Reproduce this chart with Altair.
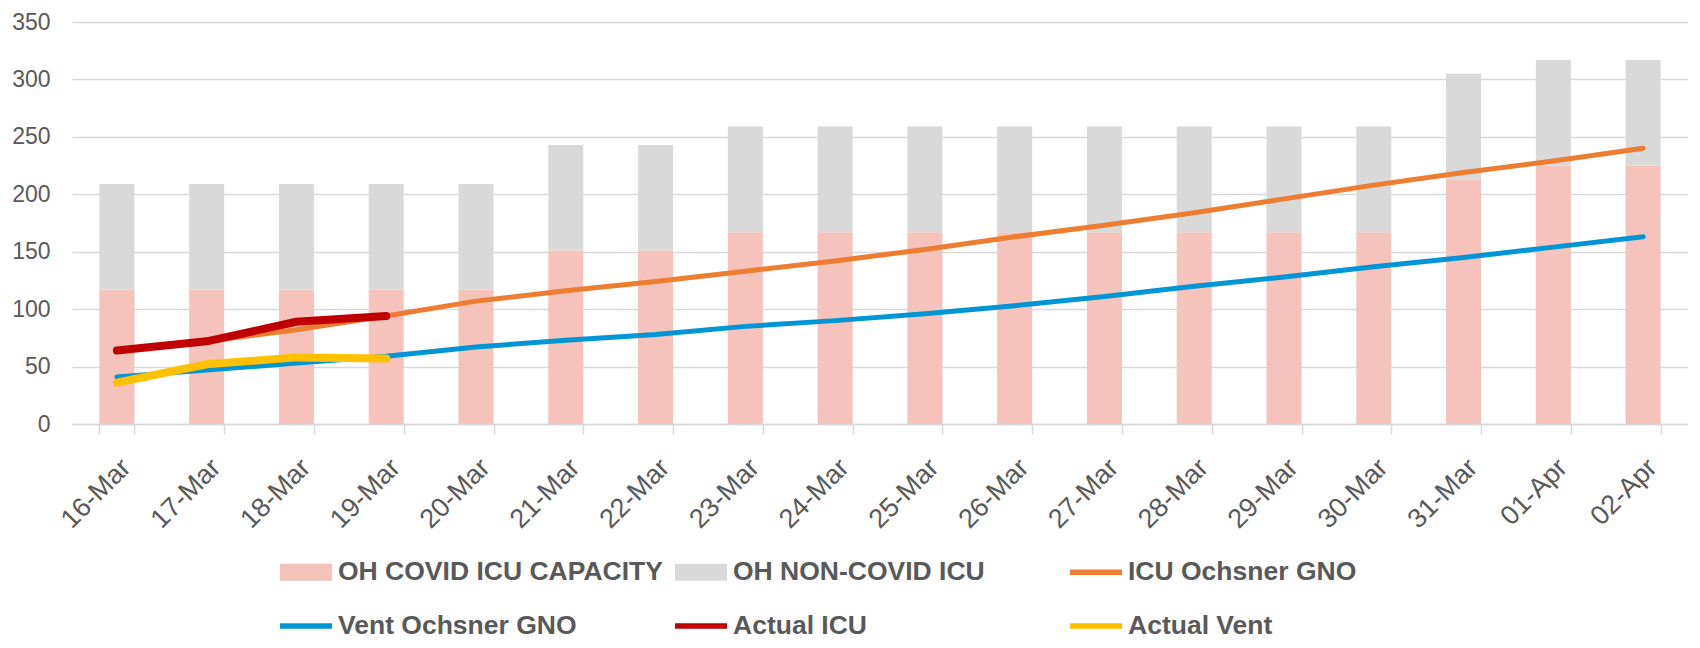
import altair as alt
import pandas as pd

dates = ["16-Mar", "17-Mar", "18-Mar", "19-Mar", "20-Mar", "21-Mar", "22-Mar", "23-Mar", "24-Mar",
         "25-Mar", "26-Mar", "27-Mar", "28-Mar", "29-Mar", "30-Mar", "31-Mar", "01-Apr", "02-Apr"]
covid_capacity = [117, 117, 117, 117, 117, 151, 151, 167, 167, 167, 167, 167, 167, 167, 167, 213, 225, 225]
non_covid = [92, 92, 92, 92, 92, 92, 92, 92, 92, 92, 92, 92, 92, 92, 92, 92, 92, 92]
icu_proj = [64, 72, 82, 94, 107, 116, 124, 133, 142, 152, 163, 173, 184, 196, 208, 219, 229, 240]
vent_proj = [41, 47, 53, 59, 67, 73, 78, 85, 90, 96, 103, 111, 120, 128, 137, 145, 154, 163]
actual_dates = ["16-Mar", "17-Mar", "18-Mar", "19-Mar"]
actual_icu = [64, 72, 89, 94]
actual_vent = [36, 52, 58, 57]
y_ticks = [0, 50, 100, 150, 200, 250, 300, 350]

series_names = ["OH COVID ICU CAPACITY", "OH NON-COVID ICU", "ICU Ochsner GNO",
                "Vent Ochsner GNO", "Actual ICU", "Actual Vent"]
series_colors = ["#F6C2BC", "#D9D9D9", "#ED7D31", "#0096D6", "#C00000", "#FFC000"]
rect_path = "M-1,-0.33H1V0.33H-1Z"
line_path = "M-1,-0.11H1V0.11H-1Z"
series_shapes = [rect_path, rect_path, line_path, line_path, line_path, line_path]

bars = pd.DataFrame({
    "date": dates * 2,
    "series": [series_names[0]] * len(dates) + [series_names[1]] * len(dates),
    "order": [0] * len(dates) + [1] * len(dates),
    "value": covid_capacity + non_covid,
})
proj = pd.DataFrame({
    "date": dates * 2,
    "series": [series_names[2]] * len(dates) + [series_names[3]] * len(dates),
    "value": icu_proj + vent_proj,
})
actual = pd.DataFrame({
    "date": actual_dates * 2,
    "series": [series_names[4]] * len(actual_dates) + [series_names[5]] * len(actual_dates),
    "value": actual_icu + actual_vent,
})
legend_df = pd.DataFrame({"series": series_names, "date": [dates[0]] * 6, "value": [-200] * 6})

color_scale = alt.Scale(domain=series_names, range=series_colors)
shape_scale = alt.Scale(domain=series_names, range=series_shapes)
legend_spec = alt.Legend(title=None, orient="none", legendX=208, legendY=524,
                         direction="horizontal", columns=3, gridAlign="all",
                         columnPadding=12, rowPadding=14, symbolSize=2700,
                         symbolStrokeWidth=0, labelFont="Liberation Sans",
                         labelFontSize=26.5, labelFontWeight="bold",
                         labelColor="#595959", labelLimit=600, labelOffset=6)

x_enc = alt.X("date:N", sort=dates, title=None,
              scale=alt.Scale(paddingInner=0.61, paddingOuter=0.305),
              axis=alt.Axis(labelAngle=-45, labelFontSize=27, labelColor="#595959",
                            tickBand="extent", tickColor="#D9D9D9", tickSize=10, tickWidth=1.5,
                            domainColor="#D9D9D9", domainWidth=1.5, grid=False, labelPadding=20))
y_scale = alt.Scale(domain=[0, 350], nice=False)
y_axis = alt.Axis(values=y_ticks, title=None, grid=True, gridColor="#D9D9D9", gridWidth=1.5,
                  domain=False, ticks=False, labelFontSize=23, labelColor="#595959", labelPadding=22)

bar_layer = alt.Chart(bars).mark_bar().encode(
    x=x_enc,
    y=alt.Y("value:Q", stack="zero", scale=y_scale, axis=y_axis),
    color=alt.Color("series:N", scale=color_scale, legend=legend_spec),
    order=alt.Order("order:Q"),
)
proj_layer = alt.Chart(proj).mark_line(strokeWidth=5, strokeCap="round").encode(
    x=alt.X("date:N", sort=dates),
    y=alt.Y("value:Q"),
    color=alt.Color("series:N", scale=color_scale, legend=legend_spec),
)
actual_layer = alt.Chart(actual).mark_line(strokeWidth=8, strokeCap="round", strokeJoin="round").encode(
    x=alt.X("date:N", sort=dates),
    y=alt.Y("value:Q"),
    color=alt.Color("series:N", scale=color_scale, legend=legend_spec),
)
legend_layer = alt.Chart(legend_df).mark_point(filled=True, opacity=1, clip=True, size=2700).encode(
    x=alt.X("date:N", sort=dates),
    y=alt.Y("value:Q"),
    color=alt.Color("series:N", scale=color_scale, legend=legend_spec),
    shape=alt.Shape("series:N", scale=shape_scale, legend=legend_spec),
)

chart = alt.layer(bar_layer, proj_layer, actual_layer, legend_layer).properties(
    width=1616, height=402,
    autosize=alt.AutoSizeParams(type="none"),
    padding={"left": 64, "top": 14, "right": 0, "bottom": 216},
).configure(font="Liberation Sans").configure_view(stroke=None)

chart.save("out.html", embed_options={"renderer": "svg", "actions": False})
